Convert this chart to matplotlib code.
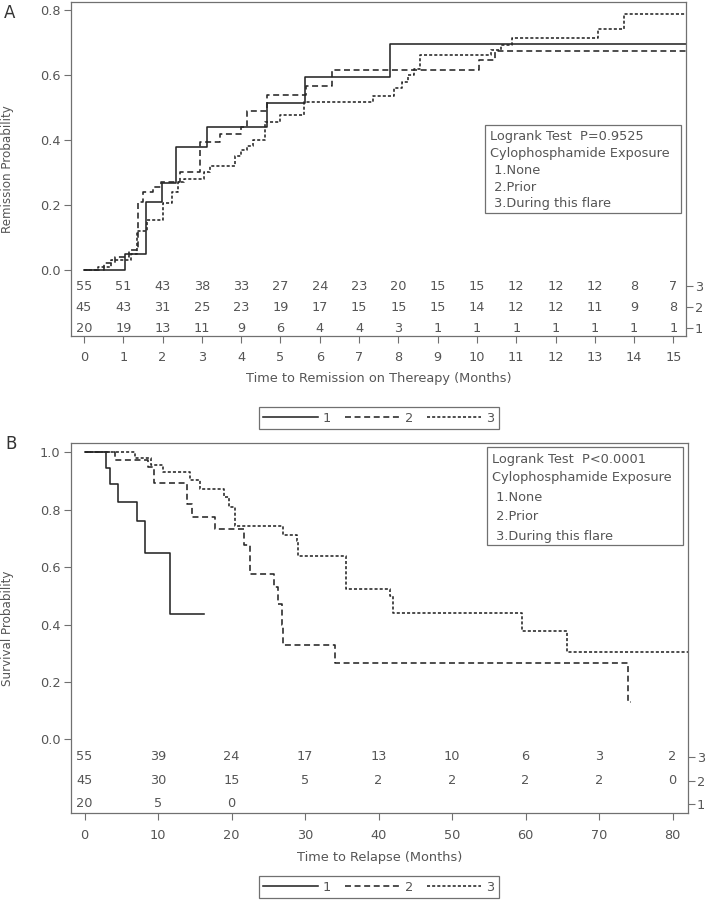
import matplotlib
matplotlib.use('Agg')
import matplotlib.pyplot as plt
from matplotlib.patches import Rectangle

plt.rcParams['font.family'] = ['DejaVu Sans']
plt.rcParams['font.size'] = 9.3
plt.rcParams['lines.scale_dashes'] = False

TEXT = '#555555'
LINE = '#262626'
EDGE = '#707070'

# ---- Panel A: time to remission (cumulative probability) ----
a_t1 = [0, 1.04, 1.58, 1.98, 2.34, 3.14, 4.65, 5.62, 7.79, 15.4]
a_p1 = [0, 0.05, 0.21, 0.268, 0.379, 0.44, 0.514, 0.593, 0.695, 0.695]

a_t2 = [0, 0.5, 0.8, 1.15, 1.38, 1.5, 1.75, 1.95, 2.45, 2.95, 3.45, 4.0,
        4.15, 4.65, 5.65, 6.3, 10.05, 10.45, 15.4]
a_p2 = [0, 0.02, 0.04, 0.06, 0.21, 0.24, 0.255, 0.27, 0.30, 0.394, 0.418,
        0.44, 0.49, 0.538, 0.566, 0.617, 0.646, 0.675, 0.675]

a_t3 = [0, 0.35, 0.7, 1.2, 1.35, 1.6, 2.0, 2.25, 2.4, 2.55, 3.05, 3.2, 3.85,
        4.0, 4.15, 4.3, 4.6, 4.98, 5.6, 7.35, 7.9, 8.1, 8.25, 8.4, 8.55,
        10.35, 10.6, 10.9, 13.08, 13.75, 15.4]
a_p3 = [0, 0.01, 0.03, 0.05, 0.12, 0.153, 0.207, 0.24, 0.27, 0.281, 0.302,
        0.32, 0.35, 0.37, 0.38, 0.40, 0.456, 0.477, 0.516, 0.536, 0.56, 0.58,
        0.60, 0.62, 0.661, 0.676, 0.692, 0.713, 0.741, 0.788, 0.788]

a_risk_times = list(range(16))
a_risk_g3 = [55, 51, 43, 38, 33, 27, 24, 23, 20, 15, 15, 12, 12, 12, 8, 7]
a_risk_g2 = [45, 43, 31, 25, 23, 19, 17, 15, 15, 15, 14, 12, 12, 11, 9, 8]
a_risk_g1 = [20, 19, 13, 11, 9, 6, 4, 4, 3, 1, 1, 1, 1, 1, 1, 1]

# ---- Panel B: time to relapse (survival probability) ----
b_t1 = [0, 2.9, 3.4, 4.6, 7.1, 8.2, 11.6, 16.2]
b_s1 = [1.0, 0.945, 0.889, 0.828, 0.761, 0.648, 0.436, 0.436]

b_t2 = [0, 4.15, 8.6, 9.4, 13.9, 14.6, 17.7, 21.7, 22.5, 25.8, 26.3, 26.8,
        27.05, 34.1, 74.0, 74.3]
b_s2 = [1.0, 0.974, 0.95, 0.893, 0.82, 0.776, 0.732, 0.677, 0.575, 0.53,
        0.47, 0.40, 0.328, 0.265, 0.131, 0.131]

b_t3 = [0, 6.8, 9.0, 10.7, 14.4, 15.7, 19.0, 19.6, 20.5, 27.05, 28.9, 29.1,
        35.6, 41.5, 42.0, 59.5, 65.6, 82.5]
b_s3 = [1.0, 0.98, 0.957, 0.931, 0.904, 0.872, 0.845, 0.81, 0.745, 0.712,
        0.69, 0.639, 0.524, 0.50, 0.441, 0.379, 0.305, 0.305]

b_risk_times = [0, 10, 20, 30, 40, 50, 60, 70, 80]
b_risk_g3 = [55, 39, 24, 17, 13, 10, 6, 3, 2]
b_risk_g2 = [45, 30, 15, 5, 2, 2, 2, 2, 0]
b_risk_g1 = [20, 5, 0]

group_labels = ['1', '2', '3']
group_styles = ['-', (0, (4.3, 2.6)), (0, (2.2, 1.5))]


def draw_panel(ax, curves, risk_times, risk_rows, row_y, xlim, ylim, yticks,
               ylabel, xlabel, info_lines, box, line_y, text_x):
    """Draws one Kaplan-Meier style panel with an at-risk table inside the frame."""
    lines = []
    for (t, p), style, lab in zip(curves, group_styles, group_labels):
        ln, = ax.step(t, p, where='post', color=LINE, lw=1.15,
                      linestyle=style, label=lab)
        lines.append(ln)

    # numbers at risk, group 3 on top
    for counts, y in zip(risk_rows, row_y):
        for t, n in zip(risk_times, counts):
            ax.text(t, y, str(n), ha='center', va='center', color=TEXT)

    ax.set_xlim(*xlim)
    ax.set_ylim(*ylim)
    ax.set_xticks(risk_times)
    ax.set_yticks(yticks, labels=[f'{v:.1f}' for v in yticks])
    ax.tick_params(direction='out', length=5, width=0.8, color=EDGE,
                   labelcolor=TEXT)
    ax.tick_params(axis='x', pad=6)
    ax.tick_params(axis='y', pad=2.5)
    for s in ax.spines.values():
        s.set_color(EDGE)
        s.set_linewidth(0.9)

    ax.set_ylabel(ylabel, color=TEXT, fontsize=8.6)
    ax.yaxis.set_label_coords(-0.092, 0.5)
    ax.set_xlabel(xlabel, color=TEXT)

    # group labels on the right edge for the at-risk rows
    sec = ax.secondary_yaxis('right')
    sec.set_yticks(row_y, labels=['3', '2', '1'])
    sec.tick_params(direction='out', length=5, width=0.8, color=EDGE,
                    labelcolor=TEXT, pad=1.5)
    sec.spines['right'].set_visible(False)

    # logrank info box
    x0, y0, x1, y1 = box
    ax.add_patch(Rectangle((x0, y0), x1 - x0, y1 - y0, transform=ax.transAxes,
                           facecolor='white', edgecolor=EDGE, lw=0.9,
                           zorder=3))
    for txt, y in zip(info_lines, line_y):
        ax.text(text_x, y, txt, transform=ax.transAxes, ha='left',
                va='center', color=TEXT, zorder=4)
    return lines


fig = plt.figure(figsize=(7.09, 9.0), dpi=100)

ax_a = fig.add_axes([71 / 709, 1 - 336 / 900, 615 / 709, 334 / 900])
lines_a = draw_panel(
    ax_a,
    [(a_t1, a_p1), (a_t2, a_p2), (a_t3, a_p3)],
    a_risk_times, [a_risk_g3, a_risk_g2, a_risk_g1], [-0.050, -0.115, -0.180],
    (-0.33, 15.32), (-0.204, 0.825), [0.0, 0.2, 0.4, 0.6, 0.8],
    'Remission Probability', 'Time to Remission on Thereapy (Months)',
    ['Logrank Test  P=0.9525', 'Cylophosphamide Exposure', ' 1.None',
     ' 2.Prior', ' 3.During this flare'],
    (0.673, 0.368, 0.992, 0.632), [0.596, 0.545, 0.497, 0.446, 0.398],
    0.681)
ax_a.xaxis.set_label_coords(0.5, -0.108)

ax_b = fig.add_axes([71 / 709, 1 - 813.3 / 900, 617 / 709, 370.6 / 900])
lines_b = draw_panel(
    ax_b,
    [(b_t1, b_s1), (b_t2, b_s2), (b_t3, b_s3)],
    b_risk_times, [b_risk_g3, b_risk_g2, b_risk_g1], [-0.061, -0.144, -0.224],
    (-1.84, 82.1), (-0.258, 1.034), [0.0, 0.2, 0.4, 0.6, 0.8, 1.0],
    'Survival Probability', 'Time to Relapse (Months)',
    ['Logrank Test  P<0.0001', 'Cylophosphamide Exposure', ' 1.None',
     ' 2.Prior', ' 3.During this flare'],
    (0.674, 0.724, 0.992, 0.988), [0.956, 0.905, 0.853, 0.800, 0.748],
    0.682)
ax_b.xaxis.set_label_coords(0.5, -0.103)

# panel letters
fig.text(4 / 709, 1 - 13 / 900, 'A', fontsize=12, color='#333333',
         ha='left', va='center')
fig.text(5 / 709, 1 - 444 / 900, 'B', fontsize=12, color='#333333',
         ha='left', va='center')

for lines, top in [(lines_a, 407), (lines_b, 876)]:
    leg = fig.legend(lines, group_labels, loc='upper center',
                     bbox_to_anchor=(379 / 709, 1 - top / 900), ncol=3,
                     frameon=True, fancybox=False, edgecolor=EDGE,
                     framealpha=1, handlelength=4.2, handletextpad=0.4,
                     columnspacing=1.1, borderpad=0.35, borderaxespad=0,
                     labelcolor=TEXT)
    leg.get_frame().set_linewidth(0.9)

fig.savefig('out.png', dpi=100)
